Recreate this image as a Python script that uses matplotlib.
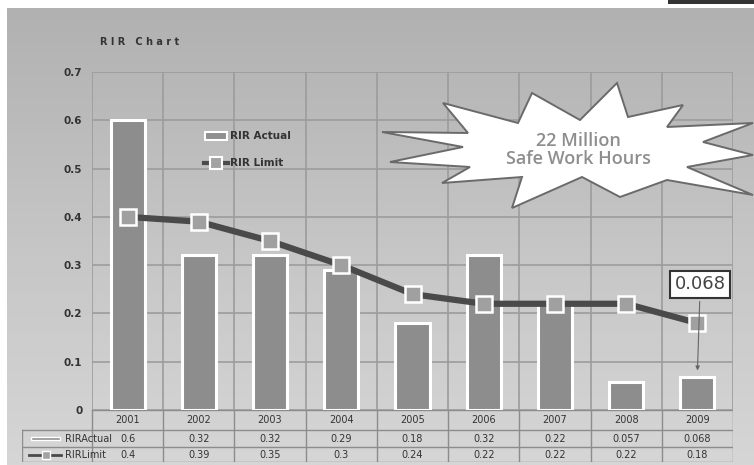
import numpy as np
import matplotlib
matplotlib.use("Agg")
import matplotlib.pyplot as plt
from matplotlib.patches import Polygon, Rectangle
from matplotlib.lines import Line2D
from matplotlib.colors import LinearSegmentedColormap

years = ["2001", "2002", "2003", "2004", "2005", "2006", "2007", "2008", "2009"]
rir_actual = [0.6, 0.32, 0.32, 0.29, 0.18, 0.32, 0.22, 0.057, 0.068]
rir_limit = [0.4, 0.39, 0.35, 0.3, 0.24, 0.22, 0.22, 0.22, 0.18]
actual_labels = ["0.6", "0.32", "0.32", "0.29", "0.18", "0.32", "0.22", "0.057", "0.068"]
limit_labels = ["0.4", "0.39", "0.35", "0.3", "0.24", "0.22", "0.22", "0.22", "0.18"]
yticks = [0, 0.1, 0.2, 0.3, 0.4, 0.5, 0.6, 0.7]
ytick_labels = ["0", "0.1", "0.2", "0.3", "0.4", "0.5", "0.6", "0.7"]

W, H = 754, 465
fig = plt.figure(figsize=(W / 100, H / 100), dpi=100)
fig.patch.set_facecolor("white")

def fx(px):
    return px / W

def fy(py):
    return 1 - py / H

narrow = ["Liberation Sans Narrow", "DejaVu Sans"]

# background gradient panel
bg = fig.add_axes([fx(7), 0, fx(W - 7), fy(8)])
bg.set_axis_off()
grad = np.linspace(0, 1, 256).reshape(-1, 1)
cmap = LinearSegmentedColormap.from_list("g", ["#b1b1b1", "#c5c5c5", "#d6d6d6"])
bg.imshow(grad, aspect="auto", cmap=cmap, extent=[0, 1, 0, 1], origin="upper")
bg.set_zorder(0)

# dark bar top right
fig.patches.append(Rectangle((fx(668), fy(4)), fx(W - 668), 4 / H, transform=fig.transFigure,
                             facecolor="#333333", edgecolor="none", zorder=1))

# main axes
L, R, T, B = 92, 733, 72, 410
ax = fig.add_axes([fx(L), fy(B), fx(R - L), (B - T) / H])
ax.set_facecolor("none")
ax.set_zorder(2)
n = len(years)
x = np.arange(n)
ax.set_xlim(-0.5, n - 0.5)
ax.set_ylim(0, 0.7)
for v in np.arange(-0.5, n, 1.0):
    ax.axvline(v, color="#9c9c9c", lw=1.2, zorder=0)
for t in yticks:
    ax.axhline(t, color="#9c9c9c", lw=1.2, zorder=0)
for s in ax.spines.values():
    s.set_visible(False)
ax.set_xticks([])
ax.set_yticks(yticks)
ax.set_yticklabels(ytick_labels, fontsize=7.5, fontweight="bold", color="#333333", family=narrow)
ax.tick_params(axis="y", length=0, pad=7)

ax.bar(x, rir_actual, width=0.48, color="#8d8d8d", edgecolor="white", linewidth=2.2, zorder=2)
ax.plot(x, rir_limit, color="#4a4a4a", lw=4.5, marker="s", markersize=11,
        markerfacecolor="#a0a0a0", markeredgecolor="white", markeredgewidth=1.8, zorder=3)

# annotation 0.068
ax.annotate("0.068", xy=(x[-1], rir_actual[-1] + 0.008), xytext=(x[-1] + 0.04, 0.26),
            fontsize=13, color="#444444", ha="center", va="center",
            bbox=dict(boxstyle="square,pad=0.25", fc="white", ec="#333333", lw=1.5),
            arrowprops=dict(arrowstyle="-|>", color="#666666", lw=0.8, mutation_scale=6),
            zorder=5)

# title
fig.text(fx(100), fy(42), "R I R   C h a r t", fontsize=7, fontweight="bold",
         color="#333333", va="center", ha="left")

# legend (inside plot)
lg_y1, lg_y2 = 136, 163
fig.patches.append(Rectangle((fx(205), fy(lg_y1 + 4)), fx(22), 8 / H, transform=fig.transFigure,
                             facecolor="#8f8f8f", edgecolor="white", lw=1.5, zorder=4))
fig.text(fx(230), fy(lg_y1), "RIR Actual", fontsize=7.5, fontweight="bold", color="#333333",
         va="center", ha="left", family=narrow, zorder=4)
fig.lines.append(Line2D([fx(204), fx(228)], [fy(lg_y2), fy(lg_y2)], transform=fig.transFigure,
                        color="#4a4a4a", lw=3, zorder=4))
fig.lines.append(Line2D([fx(216)], [fy(lg_y2)], transform=fig.transFigure, marker="s",
                        markersize=8, markerfacecolor="#a2a2a2", markeredgecolor="white",
                        markeredgewidth=1.5, zorder=5))
fig.text(fx(230), fy(lg_y2), "RIR Limit", fontsize=7.5, fontweight="bold", color="#333333",
         va="center", ha="left", family=narrow, zorder=4)

# data table
TL = 22
scale = (R - L) / n
tab = fig.add_axes([fx(TL), fy(462), fx(R - TL), (462 - B) / H])
tab.set_facecolor("none")
tab.set_zorder(2)
tab.set_xlim(-0.5 - (L - TL) / scale, n - 0.5)
tab.set_ylim(462, B)
tab.set_axis_off()
x0 = -0.5 - (L - TL) / scale
lc = "#8c8c8c"
rows = [B, 430, 447, 462]
for v in np.arange(-0.5, n, 1.0):
    tab.plot([v, v], [B, 462], color=lc, lw=1.0)
tab.plot([-0.5, n - 0.5], [B, B], color=lc, lw=1.0)
for r in rows[1:]:
    tab.plot([x0, n - 0.5], [r, r], color=lc, lw=1.0)
tab.plot([x0, x0], [430, 462], color=lc, lw=1.0)
ty = [(rows[i] + rows[i + 1]) / 2 for i in range(3)]
for i in range(n):
    tab.text(x[i], ty[0], years[i], ha="center", va="center", fontsize=7, color="#333333", family=narrow)
    tab.text(x[i], ty[1], actual_labels[i], ha="center", va="center", fontsize=7, color="#333333", family=narrow)
    tab.text(x[i], ty[2], limit_labels[i], ha="center", va="center", fontsize=7, color="#333333", family=narrow)
# row headers
tab.text(x0 + 0.6, ty[1], "RIRActual", ha="left", va="center", fontsize=7, color="#333333", family=narrow)
tab.text(x0 + 0.6, ty[2], "RIRLimit", ha="left", va="center", fontsize=7, color="#333333", family=narrow)
tab.add_patch(Rectangle((x0 + 0.12, ty[1] - 1.5), 0.42, 3, facecolor="#8f8f8f", edgecolor="white", lw=1))
tab.plot([x0 + 0.1, x0 + 0.55], [ty[2], ty[2]], color="#4a4a4a", lw=2)
tab.plot([x0 + 0.33], [ty[2]], marker="s", markersize=6, markerfacecolor="#a2a2a2",
         markeredgecolor="white", markeredgewidth=1)

# starburst
star_px = [(382, 132), (468, 133), (443, 103), (518, 123), (532, 93), (580, 120), (617, 83),
           (628, 117), (683, 105), (667, 127), (753, 123), (703, 142), (753, 155), (687, 167),
           (753, 195), (667, 180), (620, 197), (582, 177), (512, 208), (522, 177), (442, 183),
           (470, 167), (390, 162), (463, 147)]
star = Polygon([(fx(a), fy(b)) for a, b in star_px], closed=True, transform=fig.transFigure,
               facecolor="white", edgecolor="#6a6a6a", lw=1.4, zorder=6)
fig.patches.append(star)
fig.text(fx(578), fy(150), "22 Million\nSafe Work Hours", fontsize=13, fontweight="semibold",
         color="#8e8e8e", ha="center", va="center", family="Open Sans", linespacing=1.0, zorder=7)

fig.savefig("out.png", dpi=100, facecolor=fig.get_facecolor())
